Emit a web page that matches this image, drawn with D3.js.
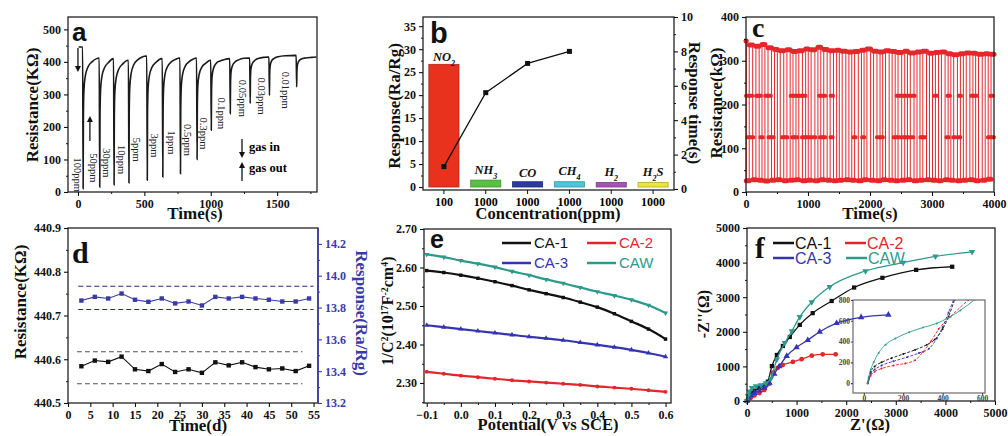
<!DOCTYPE html>
<html><head><meta charset="utf-8">
<script src="https://cdn.jsdelivr.net/npm/d3@7"></script>
<style>
body{margin:0;background:#fff;}
svg{display:block;}
</style></head><body>
<svg id="c" width="1008" height="436"></svg>
<script>
// ================= DATA =================
// (a) dynamic response, time (s) vs resistance (kOhm)
const aPts = [
[5,446],[35,446],[39,10],[41,231],[45,312],[55,356],[75,384],[105,400],[140,410],[158,412],
[160,412],[164,15],[166,232],[170,311],[180,355],[200,382],[230,398],[266,410],
[268,410],[272,22],[274,233],[278,309],[288,351],[308,378],[338,394],[376,405],
[380,405],[384,28],[386,242],[390,320],[400,363],[420,391],[450,406],[480,414],[514,418],
[518,418],[522,36],[524,242],[528,317],[538,358],[558,384],[588,399],[630,410],
[635,410],[639,46],[641,247],[645,320],[655,361],[675,386],[705,401],[740,409],[764,412],
[768,412],[772,56],[774,252],[778,323],[788,362],[808,387],[838,401],[870,409],[889,412],
[893,412],[897,100],[899,268],[903,329],[913,362],[933,384],[963,396],[996,405],
[1000,405],[1004,190],[1006,311],[1010,355],[1020,379],[1040,395],[1070,403],[1110,408],[1139,410],
[1143,410],[1147,241],[1149,335],[1153,369],[1163,388],[1183,400],[1213,407],[1250,411],[1289,412],
[1293,412],[1297,272],[1299,351],[1303,379],[1313,395],[1333,405],[1363,411],[1400,414],[1434,415],
[1438,415],[1442,297],[1444,365],[1448,389],[1458,403],[1478,411],[1508,416],[1560,419],[1639,420],
[1643,420],[1647,323],[1649,374],[1653,392],[1663,402],[1683,409],[1713,412],[1760,414],[1795,415]
];
const aLabels = ["100ppm","50ppm","30ppm","10ppm","5ppm","3ppm","1ppm","0.5ppm","0.3ppm","0.1ppm","0.05ppm","0.03ppm","0.01ppm"];
const aLabelT = [0,120,215,330,445,575,705,830,945,1080,1240,1385,1565];
const aLabelR = [53,74,90,100,130,143,152,160,180,242,288,295,313];
const aTicksX = [0,500,1000,1500];
const aTicksY = [0,100,200,300,400,500];

// (b) selectivity
const bGas = ["NO2","NH3","CO","CH4","H2","H2S"];
const bConc = ["100","1000","1000","1000","1000","1000"];
const bResp = [26.7,1.5,1.15,1.15,1.0,1.0];
const bTime = [1.3,5.6,7.3,8.0];
const bColors = ["#e8321e","#58c043","#2b3b9c","#4cc6dd","#a651b5","#ece53a"];
const bTicksL = [0,5,10,15,20,25,30,35];
const bTicksR = [0,2,4,6,8,10];

// (c) repeatability
const cDown = [5,108,212,305,412,506,609,712,806,910,1004,1111,1206,1309,1412,1505,1610,1706,1811,1904,2010,2112,2205,2309,2406,2511,2604,2710,2806,2912,3008,3106,3211,3304,3410,3506,3611,3704,3810,3906];
const cUp   = [52,160,258,355,460,552,660,758,852,962,1050,1160,1254,1357,1462,1551,1660,1752,1862,1950,2058,2162,2250,2357,2452,2560,2650,2758,2852,2960,3055,3152,3260,3350,3458,3552,3660,3750,3858,3952];
const cHigh = [345,336,333,337,330,326,323,325,321,323,327,325,331,326,323,324,322,320,321,324,327,322,320,323,321,319,322,318,320,322,317,319,320,316,314,316,318,317,315,316,315];
const cLow  = [26,28,27,25,27,28,26,27,28,26,27,26,28,27,26,27,28,27,26,28,27,26,28,27,26,27,28,26,27,28,27,26,28,27,26,27,28,26,27,29];
const cMid220 = [20,80,180,222,330,382,740,790,840,890,940,1200,1260,1385,2450,2510,2570,2630,2700,3060,3270,3450,3650,3700,3960];
const cMid125 = [40,100,250,380,430,600,650,760,810,920,970,1030,1100,1210,1260,1380,1750,1890,2130,2190,2400,2460,2540,2600,2680,2830,2870,3250,3360,3440,3920,3980];
const cTicksX = [0,1000,2000,3000,4000];
const cTicksY = [0,100,200,300,400];

// (d) long-term stability
const dDays = [3,6,9,12,15,18,21,24,27,30,33,36,39,42,45,48,51,54];
const dRes  = [440.584,440.597,440.594,440.606,440.577,440.573,440.589,440.571,440.577,440.569,440.593,440.586,440.593,440.582,440.577,440.579,440.573,440.585];
const dResp = [13.844,13.867,13.857,13.888,13.849,13.836,13.857,13.826,13.838,13.813,13.867,13.857,13.867,13.857,13.849,13.838,13.838,13.857];
const dResBand = [440.617,440.544];
const dRespBand = [13.934,13.788];
const dTicksX = [0,5,10,15,20,25,30,35,40,45,50,55];
const dTicksL = [440.5,440.6,440.7,440.8,440.9];
const dTicksR = [13.2,13.4,13.6,13.8,14.0,14.2];

// (e) Mott-Schottky
const eX   = [-0.1,-0.05,0,0.05,0.1,0.15,0.2,0.25,0.3,0.35,0.4,0.45,0.5,0.55,0.6];
const eCA1 = [2.592,2.587,2.580,2.572,2.563,2.553,2.542,2.532,2.522,2.510,2.497,2.480,2.460,2.440,2.414];
const eCA2 = [2.329,2.324,2.319,2.315,2.311,2.307,2.304,2.301,2.298,2.295,2.291,2.288,2.285,2.281,2.277];
const eCA3 = [2.450,2.445,2.440,2.435,2.430,2.425,2.420,2.416,2.411,2.405,2.399,2.393,2.386,2.378,2.368];
const eCAW = [2.634,2.627,2.618,2.610,2.601,2.590,2.580,2.569,2.559,2.548,2.537,2.527,2.516,2.502,2.482];
const eTicksX = [-0.1,0,0.1,0.2,0.3,0.4,0.5,0.6];
const eTicksY = [2.3,2.4,2.5,2.6,2.7];

// (f) Nyquist
const fCA1 = [[0,0],[30,120],[80,230],[150,300],[250,380],[350,450],[420,560],[502,1010],[602,1330],[723,1590],[863,1850],[1064,2200],[1325,2540],[1707,2890],[2160,3280],[2730,3560],[3410,3790],[4137,3880]];
const fCA2 = [[0,0],[30,50],[80,100],[150,160],[250,230],[350,320],[450,500],[522,820],[620,960],[720,1040],[924,1130],[1100,1210],[1305,1310],[1526,1350],[1787,1350]];
const fCA3 = [[0,0],[30,80],[80,160],[150,230],[250,300],[350,380],[450,520],[550,780],[650,1000],[800,1300],[1000,1550],[1225,1760],[1466,2000],[1807,2250],[2300,2420],[2850,2490]];
const fCAW = [[0,0],[20,150],[50,280],[100,380],[180,430],[280,460],[380,520],[480,650],[600,1200],[763,1680],[904,2020],[1064,2430],[1305,2860],[1667,3300],[2390,3757],[3150,4000],[3800,4180],[4538,4310]];
const iCA1 = [[20,0],[25,50],[35,110],[55,160],[90,200],[140,240],[200,280],[260,320],[320,370],[360,420],[400,520],[430,640],[460,800]];
const iCA2 = [[20,0],[25,30],[35,70],[55,110],[90,140],[150,170],[210,190],[260,220],[300,300],[340,400],[380,520],[440,640],[530,800]];
const iCA3 = [[20,0],[25,40],[35,90],[55,130],[90,170],[150,210],[220,250],[280,290],[330,330],[370,430],[400,540],[430,680],[455,800]];
const iCAW = [[20,0],[25,60],[35,130],[50,200],[75,290],[110,370],[160,430],[230,490],[300,535],[370,575],[430,630],[490,700],[560,800]];
const fTicks = [0,1000,2000,3000,4000,5000];
const iTicks = [0,200,400,600];
const iTicksY = [0,200,400,600,800];

const seriesNames = ["CA-1","CA-2","CA-3","CAW"];
const seriesColors = ["#111111","#e3262b","#3434b4","#2e9a8c"];

// ================= DRAWING =================
const svg = d3.select("#c");
const SERIF = '"Liberation Serif","Times New Roman",serif';
const SANS = '"Liberation Sans",Arial,sans-serif';
const TFS = 12;

function frame(x0,y0,x1,y1,col){
  svg.append("rect").attr("x",x0).attr("y",y0).attr("width",x1-x0).attr("height",y1-y0)
    .attr("fill","none").attr("stroke",col||"#222").attr("stroke-width",1.3);
}
function axis(gen, scale, tx, ty, major, minor, fmt, o){
  o = o||{};
  const col=o.color||"#111", fs=o.fs||TFS, size=o.size??4, pad=o.pad??3;
  const g=svg.append("g").attr("transform",`translate(${tx},${ty})`)
    .call(gen(scale).tickValues(major).tickSize(size).tickPadding(pad).tickFormat(fmt));
  g.select(".domain").remove();
  g.attr("font-family",SERIF).attr("font-size",fs).attr("font-weight","bold");
  g.selectAll("text").attr("fill",col);
  g.selectAll("line").attr("stroke",col).attr("stroke-width",1.1);
  if(minor){
    const m=svg.append("g").attr("transform",`translate(${tx},${ty})`)
      .call(gen(scale).tickValues(minor).tickSize(size/2).tickFormat(()=>""));
    m.select(".domain").remove();
    m.selectAll("line").attr("stroke",col).attr("stroke-width",1);
  }
  return g;
}
function title(txt,x,y,rot,o){
  o=o||{};
  const t=svg.append("text").attr("transform",`translate(${x},${y}) rotate(${rot||0})`)
    .attr("text-anchor","middle").attr("font-family",o.family||SERIF).attr("font-weight",o.weight||"bold")
    .attr("font-size",o.fs||17).attr("fill",o.color||"#111").attr("dy",o.dy||"0.35em");
  if(typeof txt==="string") t.text(txt);
  else txt.forEach(p=>{ const s=t.append("tspan").text(p.t);
    if(p.sup){ s.attr("baseline-shift","super").attr("font-size",(o.fs||17)*0.62); }
    if(p.sub){ s.attr("baseline-shift","sub").attr("font-size",(o.fs||17)*0.62); } });
  return t;
}
function letter(ch,x,y,fs,fam){
  svg.append("text").attr("x",x).attr("y",y).text(ch).attr("font-family",fam).attr("font-weight","bold").attr("font-size",fs).attr("fill","#111");
}
function arrow(x,y1,y2,col){
  const dir = y2>y1?1:-1;
  svg.append("line").attr("x1",x).attr("x2",x).attr("y1",y1).attr("y2",y2-dir*5).attr("stroke",col||"#111").attr("stroke-width",1.3);
  svg.append("path").attr("d",`M${x-3},${y2-dir*6}L${x+3},${y2-dir*6}L${x},${y2}Z`).attr("fill",col||"#111");
}
const rng=(a,b,s)=>d3.range(a,b+s/2,s);

// ---------- (a) ----------
{
  const x=d3.scaleLinear([-75,1800],[68,317]);
  const y=d3.scaleLinear([0,538],[192,17]);
  svg.append("path").datum(aPts).attr("fill","none").attr("stroke","#1a1a1a").attr("stroke-width",1.6)
    .attr("d",d3.line().x(d=>x(d[0])).y(d=>y(d[1])).curve(d3.curveMonotoneX));
  frame(68,17,317,192);
  axis(d3.axisBottom,x,0,192,aTicksX,rng(250,1750,500),d3.format("d"));
  axis(d3.axisLeft,y,68,0,aTicksY,rng(50,450,100),d3.format("d"));
  aLabels.forEach((l,i)=>{
    svg.append("text").attr("transform",`translate(${x(aLabelT[i])},${y(aLabelR[i])}) rotate(90)`)
      .attr("text-anchor","middle").attr("dy","0.35em").attr("font-family",SERIF).attr("font-size",10.5)
      .attr("fill","#222").text(l);
  });
  letter("a",72,41,26,SANS);
  arrow(x(0),48,72); arrow(x(90),141,116);
  arrow(242,139,158); arrow(242,181,162);
  svg.append("text").attr("x",249).attr("y",151).text("gas in").attr("font-family",SERIF).attr("font-weight","bold").attr("font-size",12.5);
  svg.append("text").attr("x",249).attr("y",172).text("gas out").attr("font-family",SERIF).attr("font-weight","bold").attr("font-size",12.5);
  title("Resistance(KΩ)",32,105,-90);
  title("Time(s)",195,213,0);
}

// ---------- (b) ----------
{
  const x=d3.scaleBand(d3.range(bGas.length),[423,674]).paddingInner(0.28).paddingOuter(0.14);
  const y=d3.scaleLinear([-0.65,37],[190,17]);
  const y2=d3.scaleLinear([-0.06,10],[190,17]);
  svg.selectAll(".bbar").data(bResp).join("rect").attr("x",(d,i)=>x(i)).attr("width",x.bandwidth())
    .attr("y",d=>y(d)).attr("height",d=>y(0)-y(d)).attr("fill",(d,i)=>bColors[i])
    .attr("stroke",(d,i)=>d3.color(bColors[i]).darker(0.8)).attr("stroke-width",0.8);
  const cx=i=>x(i)+x.bandwidth()/2;
  svg.append("path").datum(bTime).attr("fill","none").attr("stroke","#111").attr("stroke-width",1.3)
    .attr("d",d3.line().x((d,i)=>cx(i)).y(d=>y2(d)));
  svg.selectAll(".bpt").data(bTime).join("rect").attr("x",(d,i)=>cx(i)-2.5).attr("y",d=>y2(d)-2.5)
    .attr("width",5).attr("height",5).attr("fill","#111");
  frame(423,17,674,190);
  const bx=svg.append("g").attr("transform","translate(0,190)")
    .call(d3.axisBottom(x).tickSize(4).tickFormat(i=>bConc[i]));
  bx.select(".domain").remove();
  bx.attr("font-family",SERIF).attr("font-size",TFS).attr("font-weight","bold");
  bx.selectAll("line").attr("stroke","#111");
  axis(d3.axisLeft,y,423,0,bTicksL,rng(2.5,32.5,5),d3.format("d"));
  axis(d3.axisRight,y2,674,0,bTicksR,rng(1,9,2),d3.format("d"));
  const labY=[61,174,177,175,176,176];
  const gl=[[["NO",0],["2",1]],[["NH",0],["3",1]],[["CO",0]],[["CH",0],["4",1]],[["H",0],["2",1]],[["H",0],["2",1],["S",0]]];
  gl.forEach((parts,i)=>{
    const t=svg.append("text").attr("x",cx(i)).attr("y",labY[i]).attr("text-anchor","middle")
      .attr("font-family",SERIF).attr("font-style","italic").attr("font-weight","bold").attr("font-size",12.5).attr("fill","#111");
    parts.forEach(p=>{const s=t.append("tspan").text(p[0]); if(p[1]) s.attr("baseline-shift","sub").attr("font-size",8);});
  });
  letter("b",430,43,29,SANS);
  title("Response(Ra/Rg)",394,106,-90);
  title("Response time(s)",695,103,90);
  title("Concentration(ppm)",548,213,0,{fs:16.5});
}

// ---------- (c) ----------
{
  const x=d3.scaleLinear([0,4000],[746,994]);
  const y=d3.scaleLinear([0,400],[192,17]);
  const pts=[[0,cHigh[0]]];
  cDown.forEach((d,i)=>{pts.push([d,cHigh[i]],[d,cLow[i]],[cUp[i],cLow[i]],[cUp[i],cHigh[i+1]]);});
  pts.push([4000,cHigh[cHigh.length-1]]);
  const red="#e5262b";
  svg.append("path").datum(pts).attr("fill","none").attr("stroke",red).attr("stroke-width",1)
    .attr("d",d3.line().x(d=>x(d[0])).y(d=>y(d[1])));
  const highs=cHigh.map((h,i)=>[i===0?0:cUp[i-1], i<cDown.length?cDown[i]:4000, h]);
  const lows=cLow.map((l,i)=>[cDown[i],cUp[i],l]);
  svg.selectAll(".chi").data(highs.concat(lows)).join("line")
    .attr("x1",d=>x(d[0])).attr("x2",d=>x(d[1])).attr("y1",d=>y(d[2])).attr("y2",d=>y(d[2]))
    .attr("stroke",red).attr("stroke-width",5).attr("stroke-linecap","round");
  const mids=cMid220.map(t=>[t,220]).concat(cMid125.map(t=>[t,125]));
  svg.selectAll(".cmid").data(mids).join("rect").attr("x",d=>x(d[0])-3).attr("y",d=>y(d[1])-2)
    .attr("width",6).attr("height",4).attr("rx",1.5).attr("fill",red);
  frame(746,17,994,192);
  axis(d3.axisBottom,x,0,192,cTicksX,rng(500,3500,1000),d3.format("d"));
  axis(d3.axisLeft,y,746,0,cTicksY,rng(50,350,100),d3.format("d"));
  letter("c",752,37,28,SERIF);
  title("Resistance(kΩ)",716,103,-90);
  title("Time(s)",870,213,0);
}

// ---------- (d) ----------
{
  const x=d3.scaleLinear([0,56],[68,318]);
  const y=d3.scaleLinear([440.5,440.9],[403,228]);
  const y2=d3.scaleLinear([13.2,14.3],[403,228]);
  const blue="#3a3aa6";
  dResBand.forEach(v=>svg.append("line").attr("x1",x(2)).attr("x2",x(52.5)).attr("y1",y(v)).attr("y2",y(v))
    .attr("stroke","#555").attr("stroke-width",1.1).attr("stroke-dasharray","5,3"));
  dRespBand.forEach(v=>svg.append("line").attr("x1",x(2.3)).attr("x2",x(55)).attr("y1",y2(v)).attr("y2",y2(v))
    .attr("stroke","#2a2a80").attr("stroke-width",1.1).attr("stroke-dasharray","5,3"));
  svg.append("path").datum(dRes).attr("fill","none").attr("stroke","#111").attr("stroke-width",1.1)
    .attr("d",d3.line().x((d,i)=>x(dDays[i])).y(d=>y(d)));
  svg.selectAll(".dres").data(dRes).join("rect").attr("x",(d,i)=>x(dDays[i])-2.2).attr("y",d=>y(d)-2.2)
    .attr("width",4.4).attr("height",4.4).attr("fill","#111");
  svg.append("path").datum(dResp).attr("fill","none").attr("stroke",blue).attr("stroke-width",1.1)
    .attr("d",d3.line().x((d,i)=>x(dDays[i])).y(d=>y2(d)));
  svg.selectAll(".dresp").data(dResp).join("rect").attr("x",(d,i)=>x(dDays[i])-2.2).attr("y",d=>y2(d)-2.2)
    .attr("width",4.4).attr("height",4.4).attr("fill",blue);
  frame(68,228,318,403);
  svg.append("line").attr("x1",318).attr("x2",318).attr("y1",228).attr("y2",403).attr("stroke",blue).attr("stroke-width",1.5);
  axis(d3.axisBottom,x,0,403,dTicksX,null,d3.format("d"));
  axis(d3.axisLeft,y,68,0,dTicksL,rng(440.55,440.85,0.1),d3.format(".1f"));
  axis(d3.axisRight,y2,318,0,dTicksR,rng(13.3,14.1,0.2),d3.format(".1f"),{color:blue});
  letter("d",72,263,30,SERIF);
  title("Resistance(KΩ)",20,302,-90);
  title("Response(Ra/Rg)",362,313,90,{color:blue});
  title("Time(d)",198,425,0);
}

// ---------- (e) ----------
{
  const x=d3.scaleLinear([-0.108,0.616],[424,671]);
  const y=d3.scaleLinear([2.248,2.70],[403,229]);
  const sets=[eCA1,eCA2,eCA3,eCAW];
  const syms=[d3.symbolSquare,d3.symbolCircle,d3.symbolTriangle,d3.symbolTriangle];
  sets.forEach((s,k)=>{
    svg.append("path").datum(s).attr("fill","none").attr("stroke",seriesColors[k]).attr("stroke-width",2.2)
      .attr("d",d3.line().x((d,i)=>x(eX[i])).y(d=>y(d)).curve(d3.curveMonotoneX));
    svg.selectAll(".em"+k).data(s).join("path")
      .attr("transform",(d,i)=>`translate(${x(eX[i])},${y(d)})${k===3?" rotate(180)":""}`)
      .attr("d",d3.symbol(syms[k],12)).attr("fill",seriesColors[k]);
  });
  frame(424,229,671,403);
  axis(d3.axisBottom,x,0,403,eTicksX,rng(-0.05,0.55,0.1),d3.format(".1f"));
  axis(d3.axisLeft,y,424,0,eTicksY,rng(2.25,2.65,0.1),d3.format(".2f"));
  letter("e",430,248,25,SANS);
  const leg=[[502,243],[587,243],[502,263],[587,263]];
  seriesNames.forEach((n,k)=>{
    svg.append("line").attr("x1",leg[k][0]).attr("x2",leg[k][0]+29).attr("y1",leg[k][1]).attr("y2",leg[k][1])
      .attr("stroke",seriesColors[k]).attr("stroke-width",2.5);
    svg.append("text").attr("x",leg[k][0]+32).attr("y",leg[k][1]+5).text(n).attr("font-family",SANS)
      .attr("font-size",15).attr("fill",seriesColors[k]);
  });
  title([{t:"1/C"},{t:"2",sup:1},{t:"(10"},{t:"17",sup:1},{t:"F"},{t:"-2",sup:1},{t:"cm"},{t:"4",sup:1},{t:")"}],387,311,-90,{fs:16});
  title("Potential(V vs SCE)",548,424,0,{fs:16.5});
}

// ---------- (f) ----------
{
  const x=d3.scaleLinear([0,5000],[747,995]);
  const y=d3.scaleLinear([0,5000],[401,228]);
  // inset
  const xi=d3.scaleLinear([-55,615],[853,985]);
  const yi=d3.scaleLinear([-95,800],[393,300]);
  svg.append("defs").append("clipPath").attr("id","ic").append("rect").attr("x",853).attr("y",300).attr("width",132).attr("height",93);
  const gi=svg.append("g").attr("clip-path","url(#ic)");
  [iCA1,iCA2,iCA3,iCAW].forEach((s,k)=>{
    gi.append("path").datum(s).attr("fill","none").attr("stroke",seriesColors[k]).attr("stroke-width",0.9)
      .attr("stroke-dasharray",k===3?null:"3,1.5")
      .attr("d",d3.line().x(d=>xi(d[0])).y(d=>yi(d[1])).curve(d3.curveMonotoneX));
    gi.selectAll(".im"+k).data(s).join("circle").attr("cx",d=>xi(d[0])).attr("cy",d=>yi(d[1])).attr("r",1)
      .attr("fill",seriesColors[k]);
  });
  frame(853,300,985,393,"#777");
  axis(d3.axisBottom,xi,0,393,iTicks,null,d3.format("d"),{fs:7.5,size:2,pad:1,color:"#444"});
  axis(d3.axisLeft,yi,853,0,iTicksY,null,d3.format("d"),{fs:7.5,size:2,pad:1,color:"#444"});
  const sets=[fCA1,fCA2,fCA3,fCAW];
  const syms=[d3.symbolSquare,d3.symbolCircle,d3.symbolTriangle,d3.symbolTriangle];
  sets.forEach((s,k)=>{
    svg.append("path").datum(s).attr("fill","none").attr("stroke",seriesColors[k]).attr("stroke-width",1.3)
      .attr("d",d3.line().x(d=>x(d[0])).y(d=>y(d[1])).curve(d3.curveMonotoneX));
    svg.selectAll(".fm"+k).data(s).join("path")
      .attr("transform",d=>`translate(${x(d[0])},${y(d[1])})${k===3?" rotate(180)":""}`)
      .attr("d",d3.symbol(syms[k],18)).attr("fill",seriesColors[k]);
  });
  frame(747,228,995,401);
  axis(d3.axisBottom,x,0,401,fTicks,rng(500,4500,1000),d3.format("d"));
  axis(d3.axisLeft,y,747,0,fTicks,rng(500,4500,1000),d3.format("d"));
  letter("f",755,258,29,SERIF);
  const leg=[[773,243],[845,243],[773,258],[846,258]];
  seriesNames.forEach((n,k)=>{
    svg.append("line").attr("x1",leg[k][0]).attr("x2",leg[k][0]+21).attr("y1",leg[k][1]).attr("y2",leg[k][1])
      .attr("stroke",seriesColors[k]).attr("stroke-width",2.5);
    svg.append("text").attr("x",leg[k][0]+22).attr("y",leg[k][1]+6).text(n).attr("font-family",SANS)
      .attr("font-size",16).attr("fill",seriesColors[k]);
  });
  title("-Z''(Ω)",703,314,-90,{fs:16});
  title("Z'(Ω)",870,424,0,{fs:16.5});
}
</script></body></html>
